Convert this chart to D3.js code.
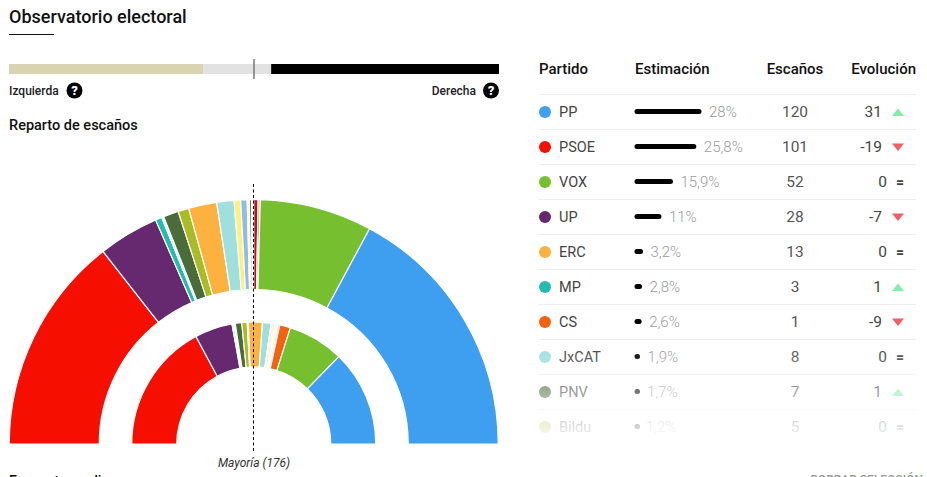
<!DOCTYPE html>
<html>
<head>
<meta charset="utf-8">
<script src="https://cdn.jsdelivr.net/npm/d3@7"></script>
<style>
html, body { margin: 0; padding: 0; background: #fff; overflow: hidden; }
text { font-family: Roboto, sans-serif; }
</style>
</head>
<body>
<script>
// table
var partidos  = ["PP", "PSOE", "VOX", "UP", "ERC", "MP", "CS", "JxCAT", "PNV", "Bildu"];
var estimacion = [28, 25.8, 15.9, 11, 3.2, 2.8, 2.6, 1.9, 1.7, 1.2];
var estimacionTxt = ["28%", "25,8%", "15,9%", "11%", "3,2%", "2,8%", "2,6%", "1,9%", "1,7%", "1,2%"];
var escanos   = [120, 101, 52, 28, 13, 3, 1, 8, 7, 5];
var evolucion = [31, -19, 0, -7, 0, 1, -9, 0, 1, 0];
var colores   = ["#3e9eef", "#f60f00", "#76bf2e", "#66296f", "#fdb23f", "#20bdb0", "#f4620f", "#9fe0de", "#4a6b3a", "#a9bb25"];

// ideology bar, percent of the width
var bloques = ["Izquierda", "Resto", "Derecha"];
var bloqueValores = [39.6, 13.9, 46.5];
var bloqueColores = ["#d8d4b2", "#e2e2e2", "#000000"];

// outer ring: estimate, seats from left to right
var anilloExterior = [101, 28, 3, 1, 7, 5, 13, 8, 3, 3, 1, 1, 1, 2, 1, 52, 120];
var coloresExterior = ["#f60f00", "#66296f", "#20bdb0", "#d5edf2", "#4a6b3a", "#a9bb25", "#fdb23f", "#9fe0de", "#fff07a", "#8cbfe3", "#f4f8ee", "#7d6f3c", "#f7f7f7", "#b5121b", "#f08a7a", "#76bf2e", "#3e9eef"];

// inner ring: previous election
var anilloInterior = [120, 35, 2, 1, 6, 5, 1, 13, 8, 4, 2, 2, 10, 52, 89];
var coloresInterior = ["#f60f00", "#66296f", "#cfeaf5", "#f4f8ee", "#4a6b3a", "#a9bb25", "#fff07a", "#fdb23f", "#9fe0de", "#fdf6d8", "#eef5e0", "#f8d8d0", "#f4620f", "#76bf2e", "#3e9eef"];

var svg = d3.select("body").append("svg")
    .attr("width", 927)
    .attr("height", 477)
    .style("display", "block");

// header
svg.append("text").text("Observatorio electoral")
    .attr("x", 9).attr("y", 23)
    .style("font-size", "18px").style("font-weight", 500).style("fill", "#111");
svg.append("rect").attr("x", 9).attr("y", 34).attr("width", 45).attr("height", 1).attr("fill", "#111");

// ideology bar
var barScale = d3.scaleLinear().domain([0, 100]).range([9, 499]);
var acum = 0;
var tramos = bloqueValores.map(function(d){ var t = {ini: acum, fin: acum + d}; acum += d; return t; });

svg.selectAll(".bloque")
    .data(tramos)
    .enter()
    .append("rect")
    .attr("class", "bloque")
    .attr("x", function(d){ return barScale(d.ini); })
    .attr("y", 64)
    .attr("width", function(d){ return barScale(d.fin) - barScale(d.ini); })
    .attr("height", 10)
    .attr("fill", function(d,i){ return bloqueColores[i]; });

svg.append("line")
    .attr("x1", barScale(50)).attr("x2", barScale(50))
    .attr("y1", 59).attr("y2", 79)
    .style("stroke", "#777").style("stroke-width", "1.5px");

function ayuda(x){
    svg.append("circle").attr("cx", x).attr("cy", 90.5).attr("r", 8).attr("fill", "#000");
    svg.append("text").text("?")
        .attr("x", x).attr("y", 95)
        .attr("text-anchor", "middle")
        .style("font-size", "13px").style("font-weight", 900).style("fill", "#fff");
}
svg.append("text").text("Izquierda")
    .attr("x", 9).attr("y", 95)
    .style("font-size", "12px").style("font-weight", 500).style("fill", "#222");
ayuda(74.5);
svg.append("text").text("Derecha")
    .attr("x", 476).attr("y", 95)
    .attr("text-anchor", "end")
    .style("font-size", "12px").style("font-weight", 500).style("fill", "#222");
ayuda(491);

svg.append("text").text("Reparto de escaños")
    .attr("x", 9).attr("y", 130)
    .style("font-size", "14.5px").style("font-weight", 500).style("fill", "#111");

// hemicycle
var centro = svg.append("g").attr("transform", "translate(253.75,444)");

var pie = d3.pie().sort(null).startAngle(-Math.PI / 2).endAngle(Math.PI / 2);

function anillo(valores, cols, rInt, rExt){
    var arc = d3.arc().innerRadius(rInt).outerRadius(rExt);
    centro.append("g").selectAll("path")
        .data(pie(valores))
        .enter()
        .append("path")
        .attr("d", arc)
        .attr("fill", function(d,i){ return cols[i]; })
        .style("stroke", "#fff")
        .style("stroke-width", "1.2px");
}
anillo(anilloExterior, coloresExterior, 154.5, 244.5);
anillo(anilloInterior, coloresInterior, 77, 122);

svg.append("line")
    .attr("x1", 253.5).attr("x2", 253.5)
    .attr("y1", 184).attr("y2", 451)
    .style("stroke", "#000").style("stroke-width", "1px")
    .style("stroke-dasharray", "3,2.5");

svg.append("text").text("Mayoría (176)")
    .attr("x", 254).attr("y", 467)
    .attr("text-anchor", "middle")
    .style("font-size", "12px").style("font-style", "italic").style("fill", "#333");

// table
var cabecera = [
    {t: "Partido", x: 539, a: "start"},
    {t: "Estimación", x: 635, a: "start"},
    {t: "Escaños", x: 795, a: "middle"},
    {t: "Evolución", x: 916, a: "end"}
];
svg.selectAll(".cab")
    .data(cabecera)
    .enter()
    .append("text")
    .attr("class", "cab")
    .text(function(d){ return d.t; })
    .attr("x", function(d){ return d.x; })
    .attr("y", 74)
    .attr("text-anchor", function(d){ return d.a; })
    .style("font-size", "15px").style("font-weight", 500).style("fill", "#111");

var rowScale = d3.scaleBand().domain(partidos).range([94.5, 444.5]);
var estScale = d3.scaleLinear().domain([0, 28]).range([0, 66]);

var filas = svg.selectAll(".fila")
    .data(partidos)
    .enter()
    .append("g")
    .attr("class", "fila")
    .attr("transform", function(d){ return "translate(0," + rowScale(d) + ")"; });

filas.append("line")
    .attr("x1", 538).attr("x2", 916)
    .attr("y1", 0).attr("y2", 0)
    .style("stroke", "#eeeeee").style("stroke-width", "1px");

filas.append("circle")
    .attr("cx", 545).attr("cy", 17.5).attr("r", 6)
    .attr("fill", function(d,i){ return colores[i]; });

filas.append("text")
    .text(function(d){ return d; })
    .attr("x", 559).attr("y", 22.5)
    .style("font-size", "14.5px").style("font-weight", 400).style("fill", "#444");

filas.append("line")
    .attr("x1", 637)
    .attr("x2", function(d,i){ return 635 + Math.max(estScale(estimacion[i]) - 2, 2.5); })
    .attr("y1", 17).attr("y2", 17)
    .style("stroke", "#000").style("stroke-width", "5px").style("stroke-linecap", "round");

filas.append("text")
    .text(function(d,i){ return estimacionTxt[i]; })
    .attr("x", function(d,i){ return 643 + estScale(estimacion[i]); })
    .attr("y", 22)
    .style("font-size", "15px").style("font-weight", 300).style("fill", "#9a9a9a");

filas.append("text")
    .text(function(d,i){ return escanos[i]; })
    .attr("x", 795).attr("y", 22.5)
    .attr("text-anchor", "middle")
    .style("font-size", "15.5px").style("fill", "#555");

filas.append("text")
    .text(function(d,i){ return evolucion[i]; })
    .attr("x", function(d,i){ return evolucion[i] === 0 ? 887 : 882; })
    .attr("y", 22)
    .attr("text-anchor", "end")
    .style("font-size", "15.5px").style("fill", "#444");

// arrow or equals sign
filas.each(function(d,i){
    var g = d3.select(this), v = evolucion[i];
    if(v > 0){
        g.append("path").attr("d", "M892,21.5 L904,21.5 L898,14 Z").attr("fill", "#7ff0a8");
    }
    else if(v < 0){
        g.append("path").attr("d", "M892,14 L904,14 L898,21.5 Z").attr("fill", "#ef5f63");
    }
    else{
        g.append("text").text("=")
            .attr("x", 900).attr("y", 22)
            .attr("text-anchor", "middle")
            .style("font-size", "14px").style("font-weight", 700).style("fill", "#444");
    }
});

// bottom of the list fades out
var grad = svg.append("defs").append("linearGradient")
    .attr("id", "fade")
    .attr("x1", 0).attr("x2", 0).attr("y1", 0).attr("y2", 1);
grad.append("stop").attr("offset", "0%").attr("stop-color", "#fff").attr("stop-opacity", 0);
grad.append("stop").attr("offset", "100%").attr("stop-color", "#fff").attr("stop-opacity", 1);

svg.append("rect")
    .attr("x", 530).attr("y", 345).attr("width", 397).attr("height", 100)
    .attr("fill", "url(#fade)");

// cut by the bottom of the window
svg.append("text").text("Encuesta media")
    .attr("x", 9).attr("y", 485.5)
    .style("font-size", "14px").style("font-weight", 500).style("fill", "#111");
svg.append("text").text("BORRAR SELECCIÓN")
    .attr("x", 923).attr("y", 484)
    .attr("text-anchor", "end")
    .style("font-size", "12px").style("font-weight", 500).style("fill", "#999");
</script>
</body>
</html>
